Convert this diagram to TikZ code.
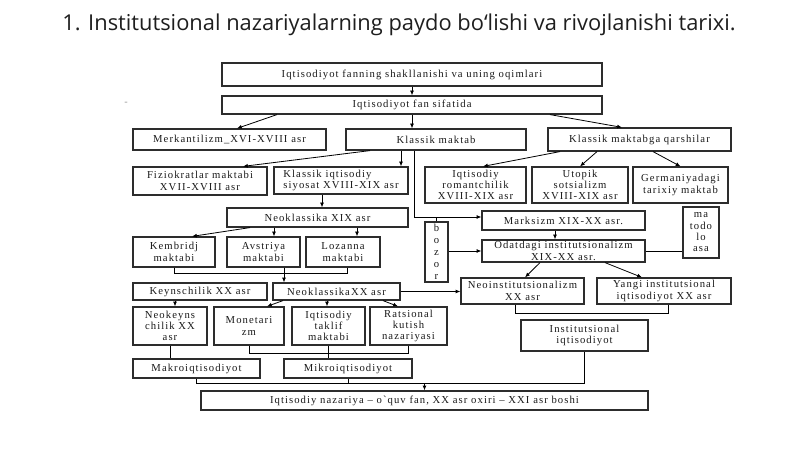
\documentclass[tikz,border=0pt]{standalone}
\usepackage{fontspec}
\setmainfont{Liberation Serif}
\newfontfamily\sarlavhafont{Open Sans}
\newfontfamily\blokfont[LetterSpace=10]{Liberation Serif}
\usetikzlibrary{arrows.meta}

\definecolor{chiziqrang}{RGB}{45,45,45}
\definecolor{matnrang}{RGB}{25,25,25}

\tikzset{
  blok/.style={draw=chiziqrang, line width=0.9pt, inner sep=0pt, align=center,
    text=matnrang, font=\blokfont\fontsize{8}{8.5}\selectfont},
  olcham/.style 2 args={minimum width=#1*0.75pt, minimum height=#2*0.75pt},
  strelka/.style={draw=black, line width=0.6pt, -{Latex[length=3.6pt,width=3pt]}},
  chiziq/.style={draw=black, line width=0.6pt},
}

\begin{document}
\begin{tikzpicture}[x=0.75pt,y=0.75pt,yscale=-1,xscale=1]
	\useasboundingbox (0,0) rectangle (800,449);

	% Title
	\node [font=\sarlavhafont\fontsize{16.4}{18}\selectfont, text={rgb,255:red,30;green,30;blue,30}] (sarlavha) at (399,25) {1. Institutsional nazariyalarning paydo bo‘lishi va rivojlanishi tarixi.};
	% Text Node
	\node [font=\sarlavhafont\fontsize{8}{8}\selectfont, text={rgb,255:red,150;green,150;blue,150}] (belgi) at (126,104) {-};

	%Shape: Rectangle
	\node [blok, olcham={380}{23}] (shakl) at (412,74.5) {Iqtisodiyot fanning shakllanishi va uning oqimlari};
	\node [blok, olcham={380}{18}] (fan) at (412,105) {Iqtisodiyot fan sifatida};
	\node [blok, olcham={193}{21}] (merk) at (229.5,139.5) {Merkantilizm\_XVI-XVIII asr};
	\node [blok, olcham={180}{21}] (klas) at (436,139.5) {Klassik maktab};
	\node [blok, olcham={183}{23}] (qarsh) at (639.5,139.5) {Klassik maktabga qarshilar};

	\node [blok, olcham={134}{28}] (fizio) at (200,181) {Fiziokratlar maktabi\\XVII-XVIII asr};
	\node [blok, olcham={134}{27}, align=left] (klsiyo) at (341,180.5) {Klassik iqtisodiy\\siyosat XVIII-XIX asr};
	\node [blok, olcham={101}{36}] (roman) at (475.5,185) {Iqtisodiy\\romantchilik\\XVIII-XIX asr};
	\node [blok, olcham={96}{36}] (utop) at (580,185) {Utopik\\sotsializm\\XVIII-XIX asr};
	\node [blok, olcham={95}{36}] (germ) at (680.5,185) {Germaniyadagi\\tarixiy maktab};

	\node [blok, olcham={181}{19}] (neo19) at (317.5,217.5) {Neoklassika XIX asr};
	\node [blok, olcham={163}{19}] (marks) at (563.5,220.5) {Marksizm XIX-XX asr.};
	\node [blok, olcham={36}{51}] (mabox) at (701,232.5) {ma\\todo\\lo\\asa};
	\node [blok, olcham={23}{60}, font=\blokfont\fontsize{8}{8.9}\selectfont] (bozor) at (436.5,252) {b\\o\\z\\o\\r};
	\node [blok, olcham={163}{22}] (odat) at (563.5,251) {Odatdagi institutsionalizm\\XIX-XX asr.};

	\node [blok, olcham={82}{30}] (kemb) at (174,252) {Kembridj\\maktabi};
	\node [blok, olcham={73}{30}] (avst) at (263.5,252) {Avstriya\\maktabi};
	\node [blok, olcham={74}{30}] (loz) at (343,252) {Lozanna\\maktabi};

	\node [blok, olcham={134}{17}] (keyn) at (200,291.5) {Keynschilik XX asr};
	\node [blok, olcham={127}{17}] (neo20) at (336.5,291.5) {NeoklassikaXX asr};
	\node [blok, olcham={123}{26}] (neoinst) at (522.5,291) {Neoinstitutsionalizm\\XX asr};
	\node [blok, olcham={134}{26}] (yangi) at (664,291) {Yangi institutsional\\iqtisodiyot XX asr};

	\node [blok, olcham={74}{38}] (neokeyn) at (170,326) {Neokeyns\\chilik XX\\asr};
	\node [blok, olcham={70}{38}] (monet) at (249,326) {Monetari\\zm};
	\node [blok, olcham={73}{38}] (taklif) at (328.5,326) {Iqtisodiy\\taklif\\maktabi};
	\node [blok, olcham={77}{38}] (rats) at (408.5,326) {Ratsional\\kutish\\nazariyasi};
	\node [blok, olcham={127}{31}] (instiq) at (584.5,335.5) {Institutsional\\iqtisodiyot};

	\node [blok, olcham={127}{19}] (makro) at (196.5,368.5) {Makroiqtisodiyot};
	\node [blok, olcham={128}{19}] (mikro) at (348,368.5) {Mikroiqtisodiyot};
	\node [blok, olcham={447}{19}] (nazar) at (424.5,400.5) {Iqtisodiy nazariya – o`quv fan, XX asr oxiri – XXI asr boshi};

	% junction levels
	\coordinate (marksK) at (0,217);
	\coordinate (kal) at (0,273);
	\coordinate (ins) at (0,313);
	\coordinate (mik) at (0,353);
	\coordinate (naz) at (0,383);

	%Straight Lines
	\draw [strelka] (shakl.south) -- (fan.north);
	\draw [strelka] (fan.south) -- (fan.south |- klas.north);
	\draw [strelka] (fan.south -| 277,0) -- (merk.north -| 237,0);
	\draw [strelka] (fan.south -| 550,0) -- (qarsh.north -| 622,0);
	\draw [strelka] (klas.south -| 370,0) -- (fizio.north -| 243,0);
	\draw [strelka] (klas.south -| 401,0) -- (klsiyo.north -| 401,0);
	\draw [strelka] (klas.south -| 414,0) -- (marksK -| 414,0) -- (marksK -| marks.west);
	\draw [chiziq] (bozor.north) -- (bozor.north |- marksK);
	\draw [strelka] (bozor.east |- odat.west) -- (odat.west);
	\draw [strelka] (qarsh.south -| 560,0) -- (roman.north -| 483,0);
	\draw [strelka] (qarsh.south -| 597,0) -- (utop.north);
	\draw [strelka] (qarsh.south -| 653,0) -- (germ.north);
	\draw [strelka] (marks.south -| 555,0) -- (odat.north -| 555,0);
	\draw [chiziq] (odat.east) -- (odat.east -| mabox.west);

	\draw [strelka] (klsiyo.south -| 322,0) -- (neo19.north -| 322,0);
	\draw [strelka] (neo19.south -| 250,0) -- (kemb.north -| 192,0);
	\draw [strelka] (neo19.south -| 274,0) -- (avst.north -| 274,0);
	\draw [strelka] (neo19.south -| 357,0) -- (loz.north -| 357,0);
	\draw [chiziq] (kemb.south) -- (kemb.south |- kal) -- (kal -| 347,0) -- (loz.south -| 347,0);
	\draw [chiziq] (avst.south -| 284,0) -- (kal -| 284,0);
	\draw [strelka] (kal -| 284,0) -- (neo20.north -| 284,0);

	\draw [strelka] (keyn.south -| 175,0) -- (neokeyn.north -| 175,0);
	\draw [strelka] (neo20.south -| 283,0) -- (monet.north -| 267,0);
	\draw [strelka] (neo20.south -| 327,0) -- (taklif.north -| 327,0);
	\draw [strelka] (neo20.south -| 383,0) -- (rats.north -| 398,0);
	\draw [strelka] (neo20.east) -- (neo20.east -| neoinst.west);
	\draw [strelka] (odat.south -| 540,0) -- (neoinst.north -| 525,0);
	\draw [strelka] (odat.south -| 605,0) -- (yangi.north -| 642,0);
	\draw [chiziq] (neoinst.south -| 515,0) -- (ins -| 515,0) -- (ins -| 668,0) -- (yangi.south -| 668,0);

	\draw [chiziq] (neokeyn.south) -- (neokeyn.south |- makro.north);
	\draw [chiziq] (monet.south) -- (monet.south |- mik) -- (rats.south |- mik) -- (rats.south);
	\draw [chiziq] (taklif.south) -- (taklif.south |- mikro.north);
	\draw [chiziq] (makro.south) -- (makro.south |- naz) -- (instiq.south |- naz) -- (instiq.south);
	\draw [chiziq] (mikro.south) -- (mikro.south |- naz);
	\draw [strelka] (nazar.north |- naz) -- (nazar.north);

\end{tikzpicture}
\end{document}
